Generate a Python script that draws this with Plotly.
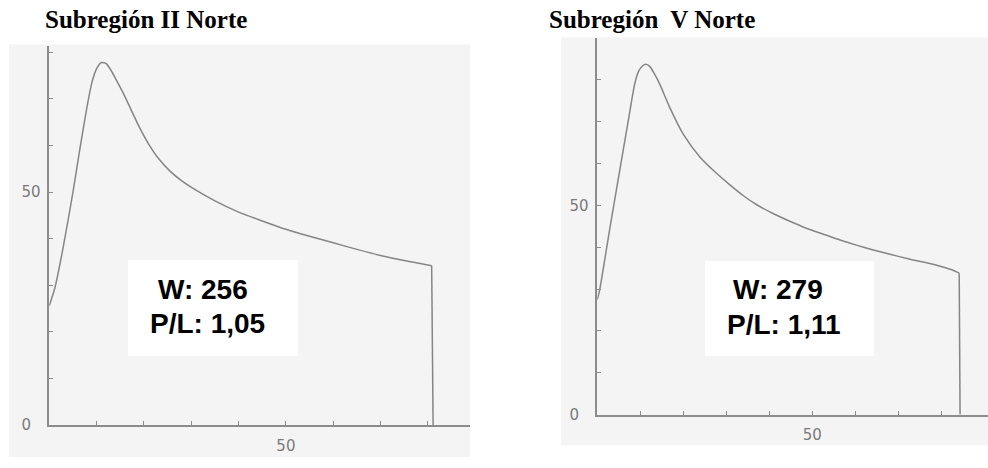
import plotly.graph_objects as go

W, H = 988, 468

# ---- data ----
left_title = "Subregión II Norte"
right_title = "Subregión\u00a0 V Norte"

left_x = [0, 1.2, 3, 5, 6.5, 8, 9, 10, 11, 12, 13, 14.2, 15.5, 17, 19, 21, 23, 25.5, 28, 31,
          35, 40, 45, 50, 55, 60, 65, 70, 75, 80.8, 81.1]
left_y = [25.6, 29.5, 38.5, 50, 59.5, 68.5, 73.5, 76.5, 77.8, 77.6, 76.2, 74, 71.5, 68.3, 64,
          60.3, 57.3, 54.5, 52.4, 50.4, 48.1, 45.7, 43.8, 42.0, 40.5, 39.1, 37.7, 36.4, 35.3, 34.2, 0]

right_x = [0, 0.5, 3, 6, 7.2, 8.7, 9.6, 10.5, 11.3, 12.3, 13.3, 14.6, 16.9, 20, 23.9, 27.8, 30.5,
           34, 37, 41, 44.8, 48.5, 52.6, 56.5, 60.3, 64, 68.1, 72.5, 76.6, 80, 82.5, 84.2, 84.4]
right_y = [27.5, 29.5, 45, 63, 70.2, 79, 82, 83.3, 83.7, 83.1, 81.4, 78.8, 73.3, 67, 61.5, 57.6, 55.2,
           52.3, 50.2, 48.0, 46.2, 44.6, 43.1, 41.7, 40.5, 39.4, 38.3, 37.2, 36.3, 35.4, 34.6, 33.8, 0]

left_labels = ["W: 256", "P/L: 1,05"]
right_labels = ["W: 279", "P/L: 1,11"]

xtick_vals = [10, 20, 30, 40, 50, 60, 70, 80]
xtick_text = ["", "", "", "", "50", "", "", ""]
ytick_vals = [0, 10, 20, 30, 40, 50, 60, 70, 80, 90]
ytick_text = ["0\u00a0\u00a0", "", "", "", "", "50", "", "", "", ""]

# ---- styling helpers ----
def px_x(p):
    return p / W

def px_y(p):
    return (H - p) / H

LINE = "#858585"
AX = "#8c8c8c"
TICKFONT = dict(family="DejaVu Sans", size=15, color="#7a7a7a")

fig = go.Figure()
for xs, ys, xa, ya in [(left_x, left_y, "x", "y"), (right_x, right_y, "x2", "y2")]:
    # smooth curve part
    fig.add_trace(go.Scatter(x=xs[:-1], y=ys[:-1], mode="lines",
                             line=dict(color=LINE, width=1.5, shape="spline", smoothing=0.6),
                             xaxis=xa, yaxis=ya, showlegend=False, hoverinfo="skip"))
    # final vertical drop
    fig.add_trace(go.Scatter(x=xs[-2:], y=ys[-2:], mode="lines",
                             line=dict(color=LINE, width=1.5),
                             xaxis=xa, yaxis=ya, showlegend=False, hoverinfo="skip"))

def xax(domain, rng, anchor):
    return dict(domain=domain, range=rng, anchor=anchor, showline=True, linecolor=AX, linewidth=1.5,
                ticks="inside", ticklen=4, tickcolor=AX, tickwidth=1.2,
                tickvals=xtick_vals, ticktext=xtick_text, tickfont=TICKFONT,
                showgrid=False, zeroline=False, ticklabelstandoff=6, fixedrange=True)

def yax(domain, rng, anchor):
    return dict(domain=domain, range=rng, anchor=anchor, showline=True, linecolor=AX, linewidth=1.5,
                ticks="inside", ticklen=4, tickcolor=AX, tickwidth=1.2,
                tickvals=ytick_vals, ticktext=ytick_text, tickfont=TICKFONT,
                showgrid=False, zeroline=False, ticklabelstandoff=4, fixedrange=True)

fig.update_layout(
    width=W, height=H, margin=dict(l=0, r=0, t=0, b=0),
    paper_bgcolor="white", plot_bgcolor="rgba(0,0,0,0)",
    xaxis=xax([px_x(49.3), px_x(470)], [0, 88.9], "y"),
    yaxis=yax([px_y(433.3), px_y(46.7)], [0, 81.4], "x"),
    xaxis2=xax([px_x(597.3), 1.0], [0, 90.9], "y2"),
    yaxis2=yax([px_y(422.7), px_y(38.3)], [0, 90.1], "x2"),
)

shapes = [
    dict(type="rect", xref="paper", yref="paper", x0=px_x(9), x1=px_x(470), y0=px_y(466), y1=px_y(45),
         fillcolor="#f4f4f4", line=dict(width=0), layer="below"),
    dict(type="rect", xref="paper", yref="paper", x0=px_x(561), x1=1.0, y0=px_y(454), y1=px_y(38),
         fillcolor="#f4f4f4", line=dict(width=0), layer="below"),
    dict(type="rect", xref="paper", yref="paper", x0=px_x(128), x1=px_x(298), y0=px_y(363), y1=px_y(265),
         fillcolor="white", line=dict(width=0), layer="above"),
    dict(type="rect", xref="paper", yref="paper", x0=px_x(705), x1=px_x(874), y0=px_y(363), y1=px_y(266),
         fillcolor="white", line=dict(width=0), layer="above"),
]
fig.update_layout(shapes=shapes)

TITLEFONT = dict(family="Liberation Serif", size=25, color="black")
BOXFONT = dict(family="Liberation Sans", size=28, color="black")
ann = [
    dict(text=f"<b>{left_title}</b>", x=px_x(43), y=px_y(20), xanchor="left", yanchor="middle", font=TITLEFONT),
    dict(text=f"<b>{right_title}</b>", x=px_x(547), y=px_y(20), xanchor="left", yanchor="middle", font=TITLEFONT),
    dict(text=f"<b>{left_labels[0]}</b>", x=px_x(202.5), y=px_y(295), xanchor="center", yanchor="middle", font=BOXFONT),
    dict(text=f"<b>{left_labels[1]}</b>", x=px_x(207.5), y=px_y(330), xanchor="center", yanchor="middle", font=BOXFONT),
    dict(text=f"<b>{right_labels[0]}</b>", x=px_x(778), y=px_y(295), xanchor="center", yanchor="middle", font=BOXFONT),
    dict(text=f"<b>{right_labels[1]}</b>", x=px_x(783.5), y=px_y(330.5), xanchor="center", yanchor="middle", font=BOXFONT),
]
for a in ann:
    a.update(xref="paper", yref="paper", showarrow=False)
fig.update_layout(annotations=ann)

fig.write_html("out.html", config={"displayModeBar": False},
               post_script="document.body.style.margin='0';")
